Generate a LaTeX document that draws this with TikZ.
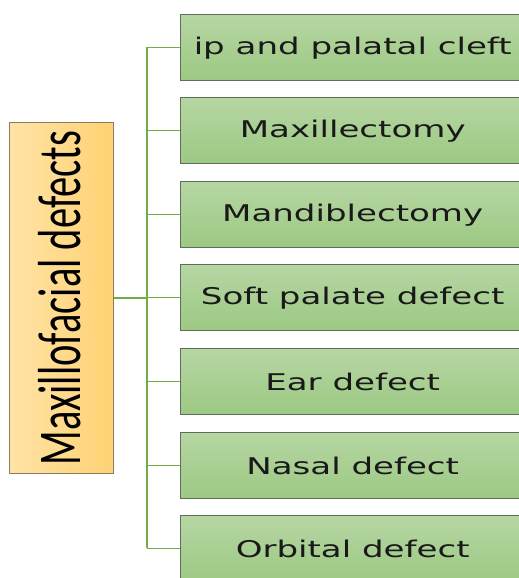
\documentclass[tikz,border=0pt]{standalone}
\usepackage{fontspec}
\setmainfont{DejaVu Sans}
\newfontfamily\rootfont{Carlito}
\newcommand{\widetext}[1]{\scalebox{1.48}[1]{#1}}
\begin{document}
\begin{tikzpicture}[x=1pt,y=1pt,
  leaf/.style={draw=leafborder,line width=1.4pt,top color=leaftop,bottom color=leafbot,
    minimum width=344pt,minimum height=66pt,inner sep=0pt,anchor=north west,
    font=\fontsize{23}{27}\selectfont,text=black!90},
  rootbox/.style={draw=rootborder,line width=1.4pt,left color=roottop,right color=rootbot,
    minimum width=104pt,minimum height=351pt,inner sep=0pt,anchor=north west},
  conn/.style={draw=conncol,line width=2pt}]
\definecolor{leaftop}{HTML}{B6D6A3}
\definecolor{leafbot}{HTML}{9CC983}
\definecolor{leafborder}{HTML}{5F6E58}
\definecolor{roottop}{HTML}{FFE3A6}
\definecolor{rootbot}{HTML}{FFD273}
\definecolor{rootborder}{HTML}{8C7B5E}
\definecolor{conncol}{HTML}{70AD47}
\useasboundingbox (0,0) rectangle (519,-578);
\clip (0,0) rectangle (519,-578);
\node[rootbox] (root) at (9,-122) {};
\node[rotate=90,font=\rootfont\fontsize{40.5}{44}\selectfont,text=black,inner sep=0pt] (rootlabel) at ([xshift=-2pt]root.center) {\scalebox{1}[1.5]{Maxillofacial defects}};
\node[leaf] (n1) at (180,-14) {\widetext{ip and palatal cleft}};
\node[leaf] (n2) at (180,-97) {\widetext{Maxillectomy}};
\node[leaf] (n3) at (180,-181) {\widetext{Mandiblectomy}};
\node[leaf] (n4) at (180,-264) {\widetext{Soft palate defect}};
\node[leaf] (n5) at (180,-348) {\widetext{Ear defect}};
\node[leaf] (n6) at (180,-432) {\widetext{Nasal defect}};
\node[leaf] (n7) at (180,-515) {\widetext{Orbital defect}};
\coordinate (ttop) at (147,-47);
\coordinate (tbot) at (147,-548);
\draw[conn] (ttop) -- (tbot);
\draw[conn] (root.east) -- (root.east -| ttop);
\foreach \n in {n1,n2,n3,n4,n5,n6,n7}{
  \draw[conn,line width=1.5pt] (\n.west -| ttop) -- (\n.west);
}
\end{tikzpicture}
\end{document}
